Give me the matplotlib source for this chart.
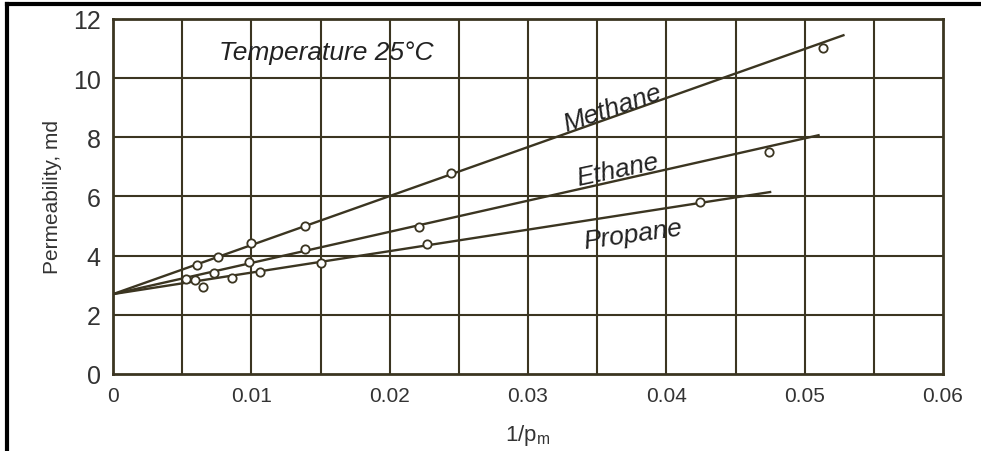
import matplotlib
matplotlib.use("Agg")
import matplotlib.pyplot as plt
from matplotlib.lines import Line2D
import numpy as np

plt.rcParams['font.family'] = ['Liberation Sans', 'DejaVu Sans']

# measured points (1/pm, permeability md)
methane_x = [0.0061, 0.0076, 0.0100, 0.0139, 0.0244, 0.0513]
methane_y = [3.68, 3.97, 4.42, 5.00, 6.79, 11.02]
ethane_x = [0.0053, 0.0073, 0.0098, 0.0139, 0.0221, 0.0474]
ethane_y = [3.20, 3.41, 3.78, 4.22, 4.97, 7.50]
propane_x = [0.0059, 0.0065, 0.0086, 0.0106, 0.0150, 0.0227, 0.0424]
propane_y = [3.16, 2.93, 3.24, 3.44, 3.75, 4.40, 5.81]

# fitted straight lines: common intercept, end point of each line
intercept = 2.7
line_end_x = {'Methane': 0.0528, 'Ethane': 0.0510, 'Propane': 0.0475}
line_end_y = {'Methane': 11.45, 'Ethane': 8.07, 'Propane': 6.15}

xticks = [0, 0.01, 0.02, 0.03, 0.04, 0.05, 0.06]
xtick_labels = ['0', '0.01', '0.02', '0.03', '0.04', '0.05', '0.06']
yticks = [0, 2, 4, 6, 8, 10, 12]

ink = '#3b3521'

fig = plt.figure(figsize=(9.81, 4.52), dpi=100)
ax = fig.add_axes([0.1152, 0.1704, 0.8461, 0.7854])

# grid every 0.005 / 2
for gx in np.arange(0.005, 0.06, 0.005):
    ax.axvline(gx, color=ink, lw=1.5, zorder=1)
for gy in yticks[1:-1]:
    ax.axhline(gy, color=ink, lw=1.5, zorder=1)

for name in ['Methane', 'Ethane', 'Propane']:
    ax.plot([0, line_end_x[name]], [intercept, line_end_y[name]],
            color=ink, lw=1.7, zorder=2)

for xs, ys in [(methane_x, methane_y), (ethane_x, ethane_y), (propane_x, propane_y)]:
    ax.plot(xs, ys, 'o', ms=6, mfc='white', mec=ink, mew=1.3, zorder=3)

ax.text(0.0154, 10.9, 'Temperature 25°C', style='italic', fontsize=19,
        ha='center', va='center', color='#222222')
ax.text(0.0361, 9.0, 'Methane', style='italic', fontsize=19, rotation=19,
        ha='center', va='center', color='#222222')
ax.text(0.0365, 6.9, 'Ethane', style='italic', fontsize=19, rotation=12,
        ha='center', va='center', color='#222222')
ax.text(0.0376, 4.73, 'Propane', style='italic', fontsize=19, rotation=8,
        ha='center', va='center', color='#222222')

ax.set_xlim(0, 0.06)
ax.set_ylim(0, 12)
ax.set_xticks(xticks)
ax.set_xticklabels(xtick_labels)
ax.set_yticks(yticks)
ax.tick_params(axis='x', length=0, pad=9, labelsize=15, colors='#333333')
ax.tick_params(axis='y', length=0, pad=9, labelsize=18, colors='#333333')
for s in ax.spines.values():
    s.set_color(ink)
    s.set_linewidth(2)
ax.set_xlabel('1/p$_\\mathregular{m}$', fontsize=16, color='#333333', labelpad=12)
ax.set_ylabel('Permeability, md', fontsize=15, color='#333333', labelpad=8)

# black frame on top and left edges of the picture
fig.add_artist(Line2D([0.007, 1.0], [0.989, 0.989], color='black', lw=3))
fig.add_artist(Line2D([0.007, 0.007], [0.0, 0.989], color='black', lw=3))

fig.savefig('out.png', dpi=100)
